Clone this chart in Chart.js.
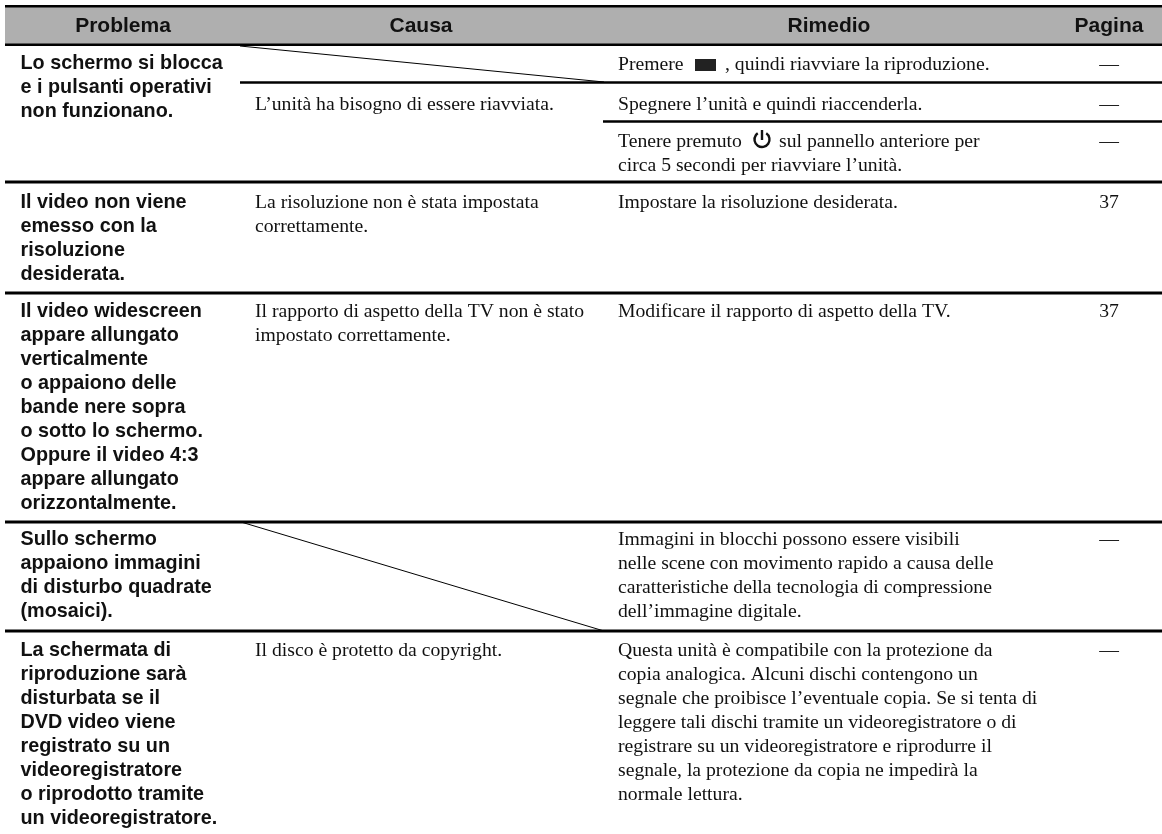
<!DOCTYPE html>
<html>
<head>
<meta charset="utf-8">
<script src="https://cdn.jsdelivr.net/npm/chart.js@4"></script>
<style>
html, body { margin: 0; padding: 0; background: #fff; }
#wrap { position: relative; width: 1162px; height: 834px; }
</style>
</head>
<body>
<div id="wrap"><canvas id="myChart"></canvas></div>
<script>
const ctx = document.getElementById('myChart');

// table content, one list per column
const headers = ['Problema', 'Causa', 'Rimedio', 'Pagina'];
const problems = [
    ['Lo schermo si blocca', 'e i pulsanti operativi', 'non funzionano.'],
    ['Il video non viene', 'emesso con la', 'risoluzione', 'desiderata.'],
    ['Il video widescreen', 'appare allungato', 'verticalmente', 'o appaiono delle', 'bande nere sopra', 'o sotto lo schermo.', 'Oppure il video 4:3', 'appare allungato', 'orizzontalmente.'],
    ['Sullo schermo', 'appaiono immagini', 'di disturbo quadrate', '(mosaici).'],
    ['La schermata di', 'riproduzione sarà', 'disturbata se il', 'DVD video viene', 'registrato su un', 'videoregistratore', 'o riprodotto tramite', 'un videoregistratore.']
];
const causes = [
    [],
    ['L’unità ha bisogno di essere riavviata.'],
    ['La risoluzione non è stata impostata', 'correttamente.'],
    ['Il rapporto di aspetto della TV non è stato', 'impostato correttamente.'],
    [],
    ['Il disco è protetto da copyright.']
];
const remedies = [
    ['Premere', ', quindi riavviare la riproduzione.'],
    ['Spegnere l’unità e quindi riaccenderla.'],
    ['Tenere premuto', 'sul pannello anteriore per', 'circa 5 secondi per riavviare l’unità.'],
    ['Impostare la risoluzione desiderata.'],
    ['Modificare il rapporto di aspetto della TV.'],
    ['Immagini in blocchi possono essere visibili', 'nelle scene con movimento rapido a causa delle', 'caratteristiche della tecnologia di compressione', 'dell’immagine digitale.'],
    ['Questa unità è compatibile con la protezione da', 'copia analogica. Alcuni dischi contengono un', 'segnale che proibisce l’eventuale copia. Se si tenta di', 'leggere tali dischi tramite un videoregistratore o di', 'registrare su un videoregistratore e riprodurre il', 'segnale, la protezione da copia ne impedirà la', 'normale lettura.']
];
const pages = ['—', '—', '—', '37', '37', '—', '—'];

// layout, in page units (the axes run 0-1162 and 0-834)
const problemX = 20.5, causeX = 255, remedyX = 618, leftEdge = 5, rightEdge = 1162;
const headerCenters = [123, 421, 829, 1109];
const pageCenter = 1109;
const lineGap = 24;
const problemTops = [64, 203, 312, 540, 651];
const causeTops = [0, 105, 203, 312, 0, 651];
const remedyTops = [65, 105, 142, 203, 312, 540, 651];
const fullRules = [182, 293, 522, 631];
const boldFont = 'bold 19.8px "Liberation Sans"';
const serifFont = '19.7px "Liberation Serif"';

function seg(x1, y1, x2, y2, width, color) {
    return {
        data: [{ x: x1, y: y1 }, { x: x2, y: y2 }],
        showLine: true,
        borderColor: color || '#000',
        borderWidth: width,
        pointRadius: 0,
        borderCapStyle: 'butt'
    };
}

const datasets = [
    seg(leftEdge, 25.5, rightEdge, 25.5, 36, '#afafaf'),
    seg(leftEdge, 6.5, rightEdge, 6.5, 3),
    seg(leftEdge, 44.5, rightEdge, 44.5, 3),
    seg(240, 82.5, rightEdge, 82.5, 2.5),
    seg(603, 121.5, rightEdge, 121.5, 2.5),
    seg(240, 46, 604, 82, 1),
    seg(241, 522, 604, 631, 1),
    seg(695, 65, 716, 65, 12, '#222')
];
fullRules.forEach(y => datasets.push(seg(leftEdge, y, rightEdge, y, 3)));

const tablePlugin = {
    id: 'tableText',
    afterDatasetsDraw(chart) {
        const c = chart.ctx;
        const sx = v => chart.scales.x.getPixelForValue(v);
        const sy = v => chart.scales.y.getPixelForValue(v);
        const text = (s, x, y) => c.fillText(s, sx(x), sy(y));
        c.save();
        c.fillStyle = '#111';
        c.textBaseline = 'middle';

        c.font = 'bold 21px "Liberation Sans"';
        c.textAlign = 'center';
        headers.forEach((h, i) => text(h, headerCenters[i], 26));

        c.font = boldFont;
        c.textAlign = 'left';
        problems.forEach((lines, i) => {
            lines.forEach((l, j) => text(l, problemX, problemTops[i] + j * lineGap));
        });

        c.font = serifFont;
        causes.forEach((lines, i) => {
            lines.forEach((l, j) => text(l, causeX, causeTops[i] + j * lineGap));
        });

        remedies.forEach((lines, i) => {
            if (i === 0) {
                text(lines[0], remedyX, remedyTops[i]);
                text(lines[1], 725, remedyTops[i]);
            } else if (i === 2) {
                text(lines[0], remedyX, remedyTops[i]);
                text(lines[1], 779, remedyTops[i]);
                text(lines[2], remedyX, remedyTops[i] + lineGap);
            } else {
                lines.forEach((l, j) => text(l, remedyX, remedyTops[i] + j * lineGap));
            }
        });

        c.textAlign = 'center';
        pages.forEach((p, i) => text(p, pageCenter, remedyTops[i]));

        // power symbol
        c.strokeStyle = '#111';
        c.lineWidth = 2.4;
        c.beginPath();
        c.arc(sx(762), sy(139.5), 7.5, -Math.PI / 2 + 0.6, -Math.PI / 2 - 0.6 + 2 * Math.PI);
        c.stroke();
        c.beginPath();
        c.moveTo(sx(762), sy(130));
        c.lineTo(sx(762), sy(140));
        c.stroke();
        c.restore();
    }
};

new Chart(ctx, {
    type: 'scatter',
    data: { datasets: datasets },
    options: {
        responsive: true,
        maintainAspectRatio: false,
        animation: false,
        layout: { padding: 0 },
        plugins: { legend: { display: false }, tooltip: { enabled: false }, title: { display: false } },
        scales: {
            x: { type: 'linear', display: false, min: 0, max: 1162 },
            y: { type: 'linear', display: false, min: 0, max: 834, reverse: true }
        }
    },
    plugins: [tablePlugin]
});
</script>
</body>
</html>
